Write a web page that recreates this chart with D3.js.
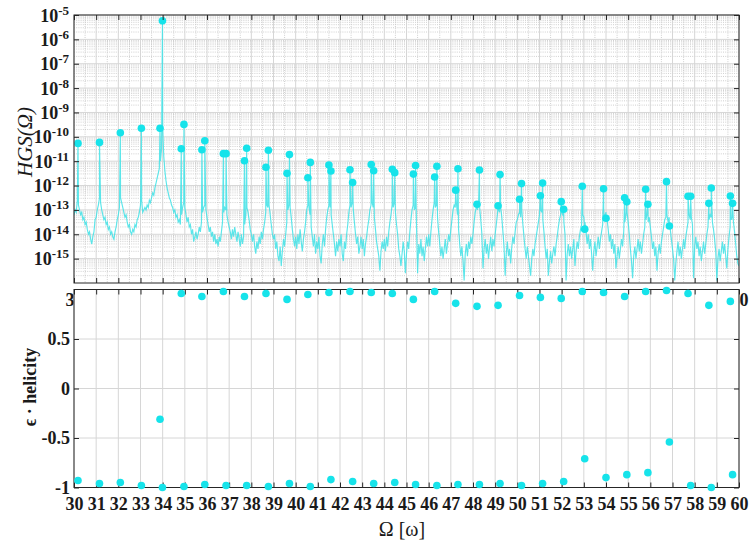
<!DOCTYPE html>
<html>
<head>
<meta charset="utf-8">
<script src="https://cdn.jsdelivr.net/npm/d3@7"></script>
<style>
    body { margin: 0; background: #fff; }
    svg text { font-family: "Liberation Serif", "Times New Roman", serif; fill: #1a1a1a; }
</style>
</head>
<body>
<div id="chart"></div>
<script>
// ---- data ----
const xTicks = [30, 31, 32, 33, 34, 35, 36, 37, 38, 39, 40, 41, 42, 43, 44, 45,
    46, 47, 48, 49, 50, 51, 52, 53, 54, 55, 56, 57, 58, 59, 60];
const decadeExps = [-5, -6, -7, -8, -9, -10, -11, -12, -13, -14, -15];
const helTicks = [-1, -0.5, 0, 0.5];

// harmonic peaks: frequency, log10 HGS, helicity
const peakOmega = [30.18, 31.15, 32.09, 33.04, 33.88, 33.99, 34.84, 34.96, 35.77, 35.90,
    36.74, 36.86, 37.69, 37.79, 38.66, 38.77, 39.61, 39.72, 40.55, 40.66,
    41.50, 41.59, 42.45, 42.57, 43.41, 43.52, 44.36, 44.47, 45.31, 45.41,
    46.27, 46.37, 47.22, 47.32, 48.18, 48.29, 49.13, 49.22, 50.10, 50.19,
    51.04, 51.14, 51.98, 52.09, 52.93, 53.04, 53.89, 54.00, 54.84, 54.94,
    55.79, 55.89, 56.73, 56.86, 57.70, 57.82, 58.64, 58.75, 59.61, 59.71];
const peakLogHGS = [-10.27, -10.23, -9.83, -9.65, -9.65, -5.24, -10.49, -9.49, -10.53, -10.16,
    -10.69, -10.69, -10.98, -10.47, -11.25, -10.55, -11.50, -10.73, -11.68, -11.05,
    -11.16, -11.40, -11.35, -11.88, -11.14, -11.39, -11.33, -11.47, -11.53, -11.18,
    -11.65, -11.21, -12.19, -11.31, -12.77, -11.36, -12.83, -11.55, -12.56, -11.92,
    -12.42, -11.90, -12.66, -12.97, -12.03, -13.79, -12.13, -13.34, -12.50, -12.67,
    -12.15, -12.77, -11.84, -13.66, -12.44, -12.44, -12.73, -12.10, -12.43, -12.73];
const peakHelicity = [-0.93, -0.96, -0.95, -0.98, -0.31, -1.00, 0.96, -0.99, 0.93, -0.97,
    0.98, -0.98, 0.93, -0.98, 0.96, -0.99, 0.90, -0.96, 0.95, -0.99,
    0.97, -0.92, 0.98, -0.94, 0.97, -0.96, 0.96, -0.95, 0.90, -0.97,
    0.98, -0.98, 0.86, -0.97, 0.83, -0.97, 0.84, -0.96, 0.94, -0.98,
    0.92, -0.96, 0.91, -0.94, 0.98, -0.71, 0.97, -0.90, 0.93, -0.87,
    0.98, -0.85, 0.99, -0.54, 0.96, -0.98, 0.84, -1.00, 0.88, -0.87];

// background spectrum, log10 HGS sampled every 0.05 from 30 to 60
const specStart = 30, specStep = 0.05;
const noiseLog = [
    [-13.2, -13.0, -13.1, -12.6, -12.8, -13.0, -13.2, -13.1, -13.4, -13.3, -13.6, -13.5, -13.8, -14.0, -13.9, -14.2, -14.4, -14.1, -13.9, -13.4], // 30
    [-13.3, -13.0, -12.8, -12.5, -12.7, -13.0, -13.2, -13.4, -13.3, -13.6, -13.5, -13.8, -13.7, -14.0, -13.9, -14.1, -14.2, -13.9, -13.7, -13.4], // 31
    [-13.2, -12.9, -12.5, -12.7, -12.9, -13.1, -13.3, -13.2, -13.5, -13.7, -13.6, -13.9, -14.0, -13.8, -13.9, -13.6, -13.7, -13.4, -13.3, -13.1], // 32
    [-12.8, -12.6, -13.1, -13.0, -12.9, -13.0, -12.8, -12.9, -12.6, -12.7, -12.5, -12.3, -12.4, -12.1, -11.9, -11.7, -11.5, -11.3, -11.0, -10.5], // 33
    [-9.6, -10.8, -11.4, -11.8, -12.1, -12.3, -12.5, -12.6, -12.8, -12.9, -13.1, -13.0, -13.3, -13.2, -13.5, -13.4, -13.6, -13.2, -12.9, -12.7], // 34
    [-12.9, -13.2, -13.5, -13.3, -13.7, -13.6, -14.0, -13.8, -14.3, -14.1, -13.9, -14.2, -14.0, -13.7, -13.9, -13.5, -13.1, -12.9, -12.8, -13.0], // 35
    [-13.3, -13.6, -13.9, -13.7, -14.1, -13.9, -14.3, -14.0, -14.4, -14.2, -14.5, -14.1, -14.3, -13.9, -13.5, -13.1, -12.9, -13.0, -13.2, -13.5], // 36
    [-13.7, -13.9, -14.2, -13.8, -14.1, -13.7, -14.0, -14.3, -13.9, -14.2, -14.5, -14.0, -14.4, -14.1, -13.6, -13.2, -12.9, -13.1, -13.4, -13.8], // 37
    [-14.0, -14.3, -14.0, -14.5, -14.8, -14.3, -14.6, -14.1, -14.4, -13.9, -14.2, -13.8, -13.5, -13.1, -12.8, -12.9, -12.8, -13.2, -13.6, -14.0], // 38
    [-14.2, -14.0, -14.6, -14.3, -14.9, -15.1, -14.5, -15.3, -14.7, -14.2, -14.5, -14.0, -13.5, -13.0, -12.8, -12.9, -13.3, -13.8, -14.2, -14.5], // 39
    [-14.1, -14.6, -14.0, -14.4, -13.8, -14.3, -14.7, -14.2, -13.9, -13.5, -13.0, -12.8, -12.9, -13.2, -13.7, -14.1, -14.5, -14.0, -14.8, -14.3], // 40
    [-14.6, -14.1, -14.9, -15.2, -14.4, -14.0, -14.5, -13.8, -13.3, -13.0, -12.8, -12.9, -13.2, -13.6, -14.0, -14.4, -14.9, -14.3, -14.7, -14.2], // 41
    [-14.5, -14.0, -14.8, -15.1, -14.3, -14.6, -14.0, -13.6, -13.1, -12.8, -12.9, -12.7, -13.0, -13.5, -14.0, -14.4, -14.1, -14.8, -14.5, -14.1], // 42
    [-14.6, -14.2, -14.9, -14.4, -14.1, -13.7, -13.4, -13.0, -12.8, -12.7, -12.9, -13.3, -13.8, -14.3, -14.6, -14.9, -15.5, -14.7, -14.3, -14.6], // 43
    [-14.2, -14.7, -14.1, -14.5, -13.9, -13.5, -13.2, -12.8, -12.9, -12.7, -13.1, -13.6, -14.0, -14.6, -14.9, -15.3, -14.8, -14.3, -14.7, -15.6], // 44
    [-14.8, -14.3, -14.6, -13.9, -13.4, -13.0, -12.8, -13.0, -12.9, -13.6, -15.6, -14.4, -14.8, -14.2, -14.9, -14.5, -15.1, -14.6, -14.1, -14.5], // 45
    [-14.0, -14.5, -13.9, -13.4, -13.0, -12.7, -12.9, -12.8, -13.3, -13.9, -14.4, -14.9, -14.5, -15.0, -14.6, -14.2, -14.8, -14.4, -14.0, -14.3], // 46
    [-13.8, -13.4, -13.0, -12.8, -12.9, -12.7, -13.2, -13.8, -14.4, -14.9, -14.5, -15.1, -15.9, -14.8, -14.4, -14.9, -14.3, -14.6, -14.1, -14.4], // 47
    [-14.0, -13.5, -13.1, -12.9, -13.0, -12.8, -12.9, -13.4, -14.0, -15.4, -14.6, -14.2, -14.8, -14.4, -15.0, -14.5, -14.1, -14.7, -14.2, -14.5], // 48
    [-14.0, -13.6, -13.2, -13.0, -13.1, -12.9, -13.3, -13.9, -14.5, -15.7, -14.8, -14.3, -14.9, -14.6, -15.2, -14.5, -14.1, -14.4, -13.9, -13.5], // 49
    [-13.4, -13.2, -13.1, -13.3, -13.0, -13.6, -14.1, -14.6, -15.0, -14.5, -14.9, -15.3, -15.7, -15.0, -14.6, -14.9, -14.4, -14.1, -13.8, -13.5], // 50
    [-13.2, -13.0, -13.1, -13.4, -13.9, -14.5, -15.0, -14.6, -15.7, -15.1, -14.7, -15.2, -14.8, -14.5, -14.9, -14.4, -14.1, -13.7, -13.4, -13.2], // 51
    [-13.1, -13.2, -13.5, -14.0, -15.9, -14.8, -14.4, -14.9, -14.5, -15.0, -14.6, -14.2, -15.3, -14.7, -14.3, -14.6, -14.1, -13.8, -13.6, -13.2], // 52
    [-13.3, -13.5, -13.9, -14.4, -14.0, -14.6, -14.2, -14.8, -15.5, -14.7, -14.3, -14.9, -14.5, -14.1, -14.6, -14.2, -13.9, -13.6, -13.4, -13.2], // 53
    [-13.1, -13.4, -13.8, -14.3, -14.0, -14.6, -14.2, -14.8, -14.4, -15.4, -14.9, -14.5, -15.0, -14.6, -14.2, -14.5, -13.9, -13.5, -13.2, -13.1], // 54
    [-13.5, -14.0, -14.6, -15.1, -15.8, -14.9, -14.5, -15.0, -14.6, -14.2, -14.7, -14.3, -14.8, -14.4, -14.0, -13.7, -13.4, -13.2, -13.5, -13.3], // 55
    [-13.7, -14.1, -14.6, -14.3, -14.9, -14.5, -15.5, -14.8, -14.4, -14.8, -14.3, -14.0, -13.7, -13.4, -13.3, -13.2, -13.5, -13.3, -13.8, -14.2], // 56
    [-14.6, -15.0, -15.9, -15.2, -14.7, -14.3, -14.9, -14.5, -15.0, -14.6, -14.2, -14.6, -14.1, -13.8, -13.5, -13.2, -13.4, -13.3, -13.6, -15.8], // 57
    [-14.5, -14.1, -14.6, -14.3, -14.9, -14.5, -15.1, -14.7, -14.3, -14.8, -14.4, -14.0, -13.7, -13.4, -13.2, -13.3, -13.5, -13.8, -14.2, -14.7], // 58
    [-15.9, -15.0, -14.6, -15.1, -14.7, -14.3, -14.8, -14.4, -14.9, -15.4, -14.6, -14.1, -13.7, -13.4, -13.3, -13.5, -13.9, -14.4, -14.9, -15.2], // 59
    [-15.3]                                                                                                                                          // 60
];

// ---- layout ----
const W = 751, H = 546;
const left = 74, right = 739;
const topY0 = 15, topY1 = 283;
const botY0 = 289.5, botY1 = 487.5;
const cyanDot = "#16e3ea", cyanLine = "#3fe2e6";
const frameCol = "#262626", gridCol = "#d6d6d6", minorCol = "#c4c4c4";

const svg = d3.select("#chart").append("svg")
    .attr("width", W)
    .attr("height", H);

const x = d3.scaleLinear().domain([30, 60]).range([left, right]);
const yTop = d3.scaleLog().domain([1e-16, 1e-5]).range([topY1, topY0]);
const yBot = d3.scaleLinear().domain([-1, 1]).range([botY1, botY0]);

// build peak records and the spectrum line
let peaks = peakOmega.map(function (w, i) {
    return {w: w, hgs: Math.pow(10, peakLogHGS[i]), hel: peakHelicity[i]};
});
let spectrum = noiseLog.flat().map(function (v, i) {
    return {w: specStart + i * specStep, hgs: Math.pow(10, v)};
});
spectrum = spectrum.concat(peaks).sort(function (a, b) { return a.w - b.w; });

// ================= top panel =================
let gTop = svg.append("g");

gTop.append("rect")
    .attr("x", left).attr("y", topY0)
    .attr("width", right - left).attr("height", topY1 - topY0)
    .attr("fill", "#fff");

// minor y grid (2..9 x 10^n)
let minorY = [];
for (let e = -16; e <= -6; e++) {
    for (let k = 2; k <= 9; k++) minorY.push(k * Math.pow(10, e));
}
gTop.selectAll(".minorY").data(minorY).enter().append("line")
    .attr("x1", left).attr("x2", right)
    .attr("y1", d => yTop(d)).attr("y2", d => yTop(d))
    .attr("stroke", minorCol).attr("stroke-width", 0.8)
    .attr("stroke-dasharray", "1,1.2");

// minor x grid at half units
let minorX = xTicks.slice(0, -1).map(d => d + 0.5);
gTop.selectAll(".minorX").data(minorX).enter().append("line")
    .attr("x1", d => x(d)).attr("x2", d => x(d))
    .attr("y1", topY0).attr("y2", topY1)
    .attr("stroke", minorCol).attr("stroke-width", 0.8)
    .attr("stroke-dasharray", "1,1.2");

// major grid
gTop.selectAll(".majX").data(xTicks).enter().append("line")
    .attr("x1", d => x(d)).attr("x2", d => x(d))
    .attr("y1", topY0).attr("y2", topY1)
    .attr("stroke", gridCol).attr("stroke-width", 1);
gTop.selectAll(".majY").data(decadeExps).enter().append("line")
    .attr("x1", left).attr("x2", right)
    .attr("y1", d => yTop(Math.pow(10, d))).attr("y2", d => yTop(Math.pow(10, d)))
    .attr("stroke", gridCol).attr("stroke-width", 1);

// spectrum line, clipped to the axes box
svg.append("clipPath").attr("id", "clipTop")
    .append("rect")
    .attr("x", left).attr("y", topY0)
    .attr("width", right - left).attr("height", topY1 - topY0);

gTop.append("path")
    .datum(spectrum)
    .attr("clip-path", "url(#clipTop)")
    .attr("fill", "none")
    .attr("stroke", cyanLine)
    .attr("stroke-opacity", 0.85)
    .attr("stroke-width", 1.15)
    .attr("d", d3.line()
        .x(d => x(d.w))
        .y(d => yTop(d.hgs)));

gTop.selectAll(".dotTop").data(peaks).enter().append("circle")
    .attr("cx", d => x(d.w))
    .attr("cy", d => yTop(d.hgs))
    .attr("r", 3.8)
    .attr("fill", cyanDot);

// axes of the top panel (ticks inside)
gTop.append("g")
    .attr("transform", "translate(0," + topY1 + ")")
    .call(d3.axisBottom(x).tickValues(xTicks).tickSize(-5).tickPadding(10).tickFormat(d3.format("d")));
gTop.append("g")
    .attr("transform", "translate(0," + topY0 + ")")
    .call(d3.axisTop(x).tickValues(xTicks).tickSize(-5).tickFormat(""));
let yAxisTop = gTop.append("g")
    .attr("transform", "translate(" + left + ",0)")
    .call(d3.axisLeft(yTop).tickValues(decadeExps.map(e => Math.pow(10, e)))
        .tickSize(-5).tickPadding(4).tickFormat(""));
gTop.append("g")
    .attr("transform", "translate(" + right + ",0)")
    .call(d3.axisRight(yTop).tickValues(decadeExps.map(e => Math.pow(10, e)))
        .tickSize(-5).tickFormat(""));

// power-of-ten labels
yAxisTop.selectAll(".tick").each(function (d) {
    let e = Math.round(Math.log10(d));
    let t = d3.select(this).append("text")
        .attr("x", -5).attr("y", 6)
        .attr("text-anchor", "end")
        .style("font-size", "18px").style("font-weight", "bold");
    t.append("tspan").text("10");
    t.append("tspan").attr("dy", -7).style("font-size", "13px").text(String(e));
});

gTop.append("rect")
    .attr("x", left).attr("y", topY0)
    .attr("width", right - left).attr("height", topY1 - topY0)
    .attr("fill", "none").attr("stroke", frameCol).attr("stroke-width", 1);

// ================= bottom panel =================
let gBot = svg.append("g");

gBot.append("rect")
    .attr("x", left).attr("y", botY0)
    .attr("width", right - left).attr("height", botY1 - botY0)
    .attr("fill", "#fff");

gBot.selectAll(".gx").data(xTicks).enter().append("line")
    .attr("x1", d => x(d)).attr("x2", d => x(d))
    .attr("y1", botY0).attr("y2", botY1)
    .attr("stroke", gridCol).attr("stroke-width", 1);
gBot.selectAll(".gy").data(helTicks.concat([1])).enter().append("line")
    .attr("x1", left).attr("x2", right)
    .attr("y1", d => yBot(d)).attr("y2", d => yBot(d))
    .attr("stroke", gridCol).attr("stroke-width", 1);

gBot.append("g")
    .attr("transform", "translate(0," + botY1 + ")")
    .call(d3.axisBottom(x).tickValues(xTicks).tickSize(-5).tickPadding(10).tickFormat(d3.format("d")));
gBot.append("g")
    .attr("transform", "translate(0," + botY0 + ")")
    .call(d3.axisTop(x).tickValues(xTicks).tickSize(-5).tickFormat(""));
gBot.append("g")
    .attr("transform", "translate(" + left + ",0)")
    .call(d3.axisLeft(yBot).tickValues(helTicks).tickSize(-5).tickPadding(4).tickFormat(d3.format("")));
gBot.append("g")
    .attr("transform", "translate(" + right + ",0)")
    .call(d3.axisRight(yBot).tickValues(helTicks).tickSize(-5).tickFormat(""));

gBot.append("rect")
    .attr("x", left).attr("y", botY0)
    .attr("width", right - left).attr("height", botY1 - botY0)
    .attr("fill", "none").attr("stroke", frameCol).attr("stroke-width", 1);

gBot.selectAll(".dotBot").data(peaks).enter().append("circle")
    .attr("cx", d => x(d.w))
    .attr("cy", d => yBot(d.hel))
    .attr("r", 3.8)
    .attr("fill", cyanDot);

// axis styling
svg.selectAll(".domain").remove();
svg.selectAll(".tick line").attr("stroke", frameCol);
svg.selectAll(".tick text")
    .style("font-size", "18px")
    .style("font-weight", "bold")
    .attr("fill", "#1a1a1a");
svg.selectAll(".tick text tspan:last-child").style("font-size", "13px");
gBot.selectAll(".tick text").text(function (d) {
    return this.textContent.replace("\u2212", "-");
});

// ---- axis titles ----
svg.append("text")
    .attr("transform", "translate(32,142) rotate(-90)")
    .attr("text-anchor", "middle")
    .style("font-size", "21px")
    .style("font-style", "italic")
    .text("HGS(\u03A9)");

svg.append("text")
    .attr("transform", "translate(36,387) rotate(-90)")
    .attr("text-anchor", "middle")
    .style("font-size", "18px")
    .style("font-weight", "bold")
    .text("\u03F5 \u00B7 helicity");

svg.append("text")
    .attr("x", 402).attr("y", 536)
    .attr("text-anchor", "middle")
    .style("font-size", "20px")
    .text("\u03A9 [\u03C9]");
</script>
</body>
</html>
